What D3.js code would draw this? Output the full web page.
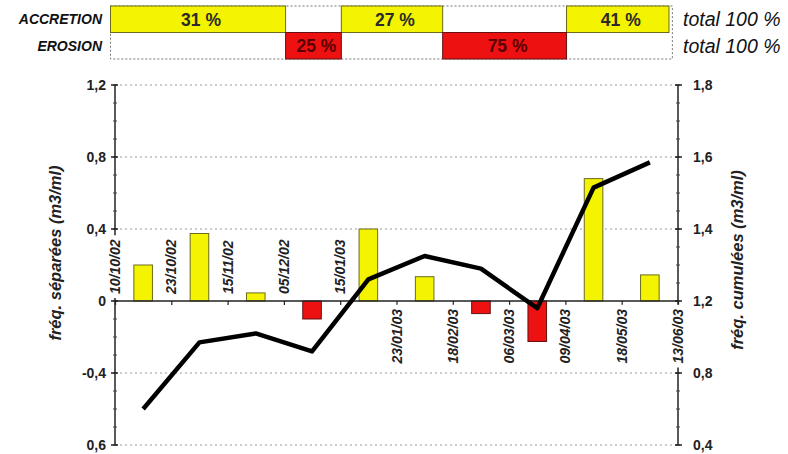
<!DOCTYPE html>
<html><head><meta charset="utf-8">
<script src="https://cdn.jsdelivr.net/npm/d3@7/dist/d3.min.js"></script>
<style>
body{margin:0;background:#fff}
svg{display:block}
text{font-family:"Liberation Sans",Arial,Helvetica,sans-serif}
</style></head>
<body>
<svg id="chart" width="788" height="454"></svg>
<script>
// ---------- DATA ----------
const dates = ["10/10/02","23/10/02","15/11/02","05/12/02","15/01/03","23/01/03","18/02/03","06/03/03","09/04/03","18/05/03","13/06/03"];
const periods = dates.slice(0, -1).map((d, i) => d + " - " + dates[i + 1]);
const sepValues = [0.20, 0.375, 0.045, -0.10, 0.40, 0.135, -0.07, -0.225, 0.68, 0.145];   // fréq. séparées
const cumValues = [0.90, 1.085, 1.11, 1.06, 1.26, 1.325, 1.29, 1.18, 1.515, 1.585];       // fréq. cumulées
const leftTicks = [1.2, 0.8, 0.4, 0, -0.4, -0.8];
const leftTickLabels = ["1,2", "0,8", "0,4", "0", "-0,4", "0,6"];
const rightTicks = [1.8, 1.6, 1.4, 1.2, 1.0, 0.8];
const rightTickLabels = ["1,8", "1,6", "1,4", "1,2", "0,8", "0,4"];
const tableRows = ["ACCRETION", "EROSION"];
const accretionPct = [31, 27, 41];
const erosionPct = [25, 75];
const rowTotals = ["total 100 %", "total 100 %"];

// ---------- LAYOUT ----------
const L = 115, R = 678, T = 85, B = 445;
const svg = d3.select("#chart");
const xDate = d3.scalePoint(dates, [L, R]);
const xBand = d3.scaleBand(periods, [L, R]);
const yL = d3.scaleLinear([-0.8, 1.2], [B, T]);
const yR = d3.scaleLinear([0.8, 1.8], [B, T]);
const xU = d3.scaleLinear([0, 10], [L, R]); // band units, for the summary table
const accSpans = [[-0.08, 3.03], [4.02, 5.82], [8.02, 9.84]];
const eroSpans = [[3.03, 4.02], [5.82, 8.02]];
const tblL = -0.08, tblR = 9.9, row1T = 6, rowH = 26.5;

// ---------- TABLE ----------
const tbl = svg.append("g");
tbl.append("rect").attr("x", xU(tblL)).attr("y", row1T).attr("width", xU(tblR) - xU(tblL)).attr("height", rowH * 2)
  .attr("fill", "none").attr("stroke", "#777").attr("stroke-width", 1).attr("stroke-dasharray", "2,2");
function drawRow(spans, pcts, rowIdx, fill, stroke, txtCol) {
  const y0 = row1T + rowIdx * rowH;
  spans.forEach((s, i) => {
    tbl.append("rect").attr("x", xU(s[0])).attr("y", y0).attr("width", xU(s[1]) - xU(s[0])).attr("height", rowH)
      .attr("fill", fill).attr("stroke", stroke).attr("stroke-width", 1);
    tbl.append("text").attr("x", (xU(s[0]) + xU(s[1])) / 2 + 3).attr("y", y0 + rowH / 2).attr("dy", "0.36em")
      .attr("text-anchor", "middle").attr("font-size", 17.5).attr("font-weight", "bold").attr("fill", txtCol)
      .text(pcts[i] + " %");
  });
  tbl.append("text").attr("x", 102).attr("y", y0 + rowH / 2).attr("dy", "0.36em").attr("text-anchor", "end")
    .attr("font-size", 14).attr("font-weight", "bold").attr("font-style", "italic").attr("fill", "#111")
    .text(tableRows[rowIdx]);
  tbl.append("text").attr("x", 683).attr("y", y0 + rowH / 2).attr("dy", "0.36em").attr("text-anchor", "start")
    .attr("font-size", 19.5).attr("font-style", "italic").attr("fill", "#111")
    .text(rowTotals[rowIdx]);
}
drawRow(accSpans, accretionPct, 0, "#f4f400", "#6b6b20", "#2a2a2a");
drawRow(eroSpans, erosionPct, 1, "#ee1111", "#661111", "#5a0000");

// ---------- GRID ----------
const g = svg.append("g");
g.selectAll("line.grid").data(leftTicks.filter(v => v !== 0)).join("line")
  .attr("x1", L).attr("x2", R).attr("y1", d => yL(d)).attr("y2", d => yL(d))
  .attr("stroke", "#999").attr("stroke-width", 1).attr("stroke-dasharray", "2,3");

// ---------- BARS ----------
const bw = xBand.bandwidth() * 0.33;
g.selectAll("rect.bar").data(periods).join("rect")
  .attr("x", d => xBand(d) + xBand.bandwidth() / 2 - bw / 2)
  .attr("width", bw)
  .attr("y", (d, i) => yL(Math.max(0, sepValues[i])))
  .attr("height", (d, i) => Math.abs(yL(sepValues[i]) - yL(0)))
  .attr("fill", (d, i) => sepValues[i] >= 0 ? "#f4f400" : "#ee1111")
  .attr("stroke", (d, i) => sepValues[i] >= 0 ? "#6b6b20" : "#661111")
  .attr("stroke-width", 1);

// ---------- LEFT AXIS ----------
const minor = d3.range(-0.8, 1.2001, 0.1);
g.append("line").attr("x1", L).attr("x2", L).attr("y1", yL(1.2)).attr("y2", yL(-0.8)).attr("stroke", "#222").attr("stroke-width", 1.5);
g.selectAll("line.lmin").data(minor).join("line")
  .attr("x1", L - 2).attr("x2", L + 2).attr("y1", d => yL(d)).attr("y2", d => yL(d)).attr("stroke", "#444");
g.selectAll("line.lmaj").data(leftTicks).join("line")
  .attr("x1", L - 4).attr("x2", L + 3).attr("y1", d => yL(d)).attr("y2", d => yL(d)).attr("stroke", "#222").attr("stroke-width", 1.5);
g.selectAll("text.lt").data(leftTicks).join("text")
  .attr("x", 106).attr("y", d => yL(d)).attr("dy", "0.36em").attr("text-anchor", "end")
  .attr("font-size", 14).attr("font-weight", "bold").attr("fill", "#222")
  .text((d, i) => leftTickLabels[i]);

// ---------- RIGHT AXIS ----------
g.append("line").attr("x1", R).attr("x2", R).attr("y1", yR(1.8)).attr("y2", yR(0.8)).attr("stroke", "#222").attr("stroke-width", 1.5);
const rminor = d3.range(0.8, 1.8001, 0.05);
g.selectAll("line.rmin").data(rminor).join("line")
  .attr("x1", R - 2).attr("x2", R + 2).attr("y1", d => yR(d)).attr("y2", d => yR(d)).attr("stroke", "#444");
g.selectAll("line.rmaj").data(rightTicks).join("line")
  .attr("x1", R - 3).attr("x2", R + 4).attr("y1", d => yR(d)).attr("y2", d => yR(d)).attr("stroke", "#222").attr("stroke-width", 1.5);
g.selectAll("text.rt").data(rightTicks).join("text")
  .attr("x", 693).attr("y", d => yR(d)).attr("dy", "0.36em").attr("text-anchor", "start")
  .attr("font-size", 14).attr("font-weight", "bold").attr("fill", "#222")
  .text((d, i) => rightTickLabels[i]);

// ---------- X AXIS ----------
const xAxis = g.append("g").attr("transform", `translate(0,${yL(0)})`)
  .call(d3.axisBottom(xDate).tickSize(4).tickFormat(""));
xAxis.select(".domain").attr("stroke", "#222").attr("stroke-width", 1.5).attr("d", `M${L},0H${R}`);
xAxis.selectAll(".tick line").attr("stroke", "#222").attr("stroke-width", 1.2);

// date labels with opaque white background (as in the original)
const dl = g.append("g");
dates.forEach((d, i) => {
  const above = i < 5;
  const gg = dl.append("g").attr("transform", `translate(${xDate(d)},${yL(0) + (above ? -7 : 8)}) rotate(-90)`);
  const bg = gg.append("rect").attr("fill", "#fff");
  const t = gg.append("text")
    .attr("text-anchor", above ? "start" : "end")
    .attr("dy", "0.36em")
    .attr("font-size", 14).attr("font-weight", "bold").attr("font-style", "italic").attr("fill", "#222")
    .text(d);
  const bb = t.node().getBBox();
  bg.attr("x", bb.x - 4).attr("y", bb.y - 1).attr("width", bb.width + 8).attr("height", bb.height + 2);
});

// ---------- CUMULATIVE LINE ----------
const line = d3.line().x((d, i) => xBand(periods[i]) + xBand.bandwidth() / 2).y(d => yR(d));
g.append("path").datum(cumValues).attr("d", line)
  .attr("fill", "none").attr("stroke", "#000").attr("stroke-width", 4.5).attr("stroke-linejoin", "round");

// ---------- AXIS TITLES ----------
g.append("text").attr("transform", "translate(55,253) rotate(-90)").attr("text-anchor", "middle").attr("dy", "0.36em")
  .attr("font-size", 16.5).attr("font-weight", "bold").attr("font-style", "italic").attr("fill", "#222")
  .text("fréq. séparées (m3/ml)");
g.append("text").attr("transform", "translate(737,260) rotate(-90)").attr("text-anchor", "middle").attr("dy", "0.36em")
  .attr("font-size", 16.5).attr("font-weight", "bold").attr("font-style", "italic").attr("fill", "#222")
  .text("fréq. cumulées (m3/ml)");
</script>
</body></html>
